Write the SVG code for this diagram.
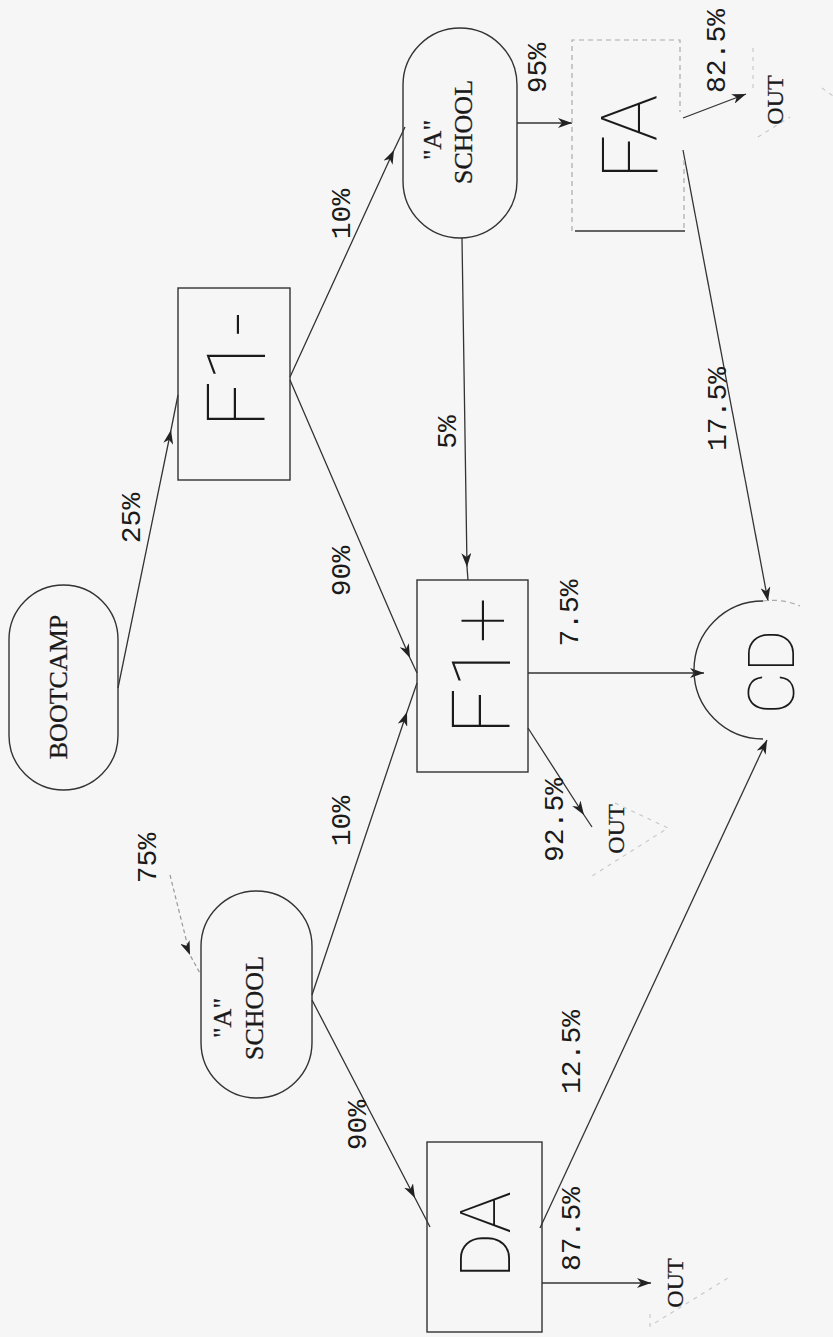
<svg xmlns="http://www.w3.org/2000/svg" width="833" height="1337" viewBox="0 0 833 1337">
<style>
.bg{fill:#f6f6f6}
.node{fill:none;stroke:#333;stroke-width:1.4}
.faint{fill:none;stroke:#aaa;stroke-width:1.2;stroke-dasharray:5 4}
.ghost{fill:none;stroke:#c6c6c6;stroke-width:1.1;stroke-dasharray:4 5}
.edge{fill:none;stroke:#333;stroke-width:1.3}
.edge-dash{fill:none;stroke:#999;stroke-width:1.2;stroke-dasharray:4 3}
.serif{font-family:"Liberation Serif","Times New Roman",serif;fill:#1a1a1a;stroke:#1a1a1a;stroke-width:0.3}
.name{font-size:26px}
.out{font-size:24px}
.lbl{font-family:"Liberation Mono","Courier New",monospace;font-size:28px;fill:#1a1a1a}
.big{font-family:Roboto,"DejaVu Sans",sans-serif;font-weight:100;fill:#1a1a1a}
</style>
<defs>
<marker id="ah" viewBox="0 0 14 10" refX="14" refY="5" markerWidth="14" markerHeight="10" markerUnits="userSpaceOnUse" orient="auto">
<path d="M0,0 L14,5 L0,10 L4,5 Z" fill="#222"/>
</marker>
</defs>
<rect class="bg" x="0" y="0" width="833" height="1337"/>

<g id="connectors">
<path id="e-boot-f1m" class="edge" d="M118,688 L171,430 L178,395" marker-mid="url(#ah)"/>
<path id="e-f1m-as1" class="edge" d="M290,377 L394,150 L405,127" marker-mid="url(#ah)"/>
<path id="e-f1m-f1p" class="edge" d="M290,380 L410,658 L417,673" marker-mid="url(#ah)"/>
<path id="e-as2-f1p" class="edge" d="M312,995 L407,712 L417,683" marker-mid="url(#ah)"/>
<path id="e-in-as2" class="edge-dash" d="M170,875 L190,955 L201,975" marker-mid="url(#ah)"/>
<path id="e-as1-f1p" class="edge" d="M462,238 L467,567 L468,580" marker-mid="url(#ah)"/>
<path id="e-as1-fa" class="edge" d="M517,123 L572,123" marker-end="url(#ah)" stroke-width="1.8"/>
<path id="e-fa-out" class="edge" d="M683,118 L746,94" marker-end="url(#ah)"/>
<path id="e-fa-cd" class="edge" d="M683,150 L768,601" marker-end="url(#ah)"/>
<path id="e-f1p-cd" class="edge" d="M528,673 L704,673" marker-end="url(#ah)" stroke-width="1.6"/>
<path id="e-f1p-out" class="edge" d="M528,728 L584,815 L592,827" marker-mid="url(#ah)"/>
<path id="e-da-cd" class="edge" d="M540,1228 L767,740" marker-end="url(#ah)"/>
<path id="e-da-out" class="edge" d="M542,1283 L651,1283" marker-end="url(#ah)" stroke-width="1.8"/>
<path id="e-as2-da" class="edge" d="M312,1000 L415,1198 L430,1227" marker-mid="url(#ah)"/>
<!-- faint OUT brackets -->
<path class="ghost" d="M753,48 L753,92"/>
<path class="ghost" d="M758,137 L790,117"/>
<path class="ghost" d="M822,88 L833,96"/>
<path class="ghost" d="M615,803 L668,828 L592,876"/>
<path class="ghost" d="M650,1314 L650,1326 L728,1278"/>
<!-- edge labels -->
<text class="lbl" text-anchor="middle" transform="translate(140,518) rotate(-90)">25%</text>
<text class="lbl" text-anchor="middle" transform="translate(350,214) rotate(-90)">10%</text>
<text class="lbl" text-anchor="middle" transform="translate(350,571) rotate(-90)">90%</text>
<text class="lbl" text-anchor="middle" transform="translate(350,821) rotate(-90)">10%</text>
<text class="lbl" text-anchor="middle" transform="translate(156,858) rotate(-90)">75%</text>
<text class="lbl" text-anchor="middle" transform="translate(366,1125) rotate(-90)">90%</text>
<text class="lbl" text-anchor="middle" transform="translate(456,432) rotate(-90)">5%</text>
<text class="lbl" text-anchor="middle" transform="translate(546,68) rotate(-90)">95%</text>
<text class="lbl" text-anchor="middle" transform="translate(725,51) rotate(-90)">82.5%</text>
<text class="lbl" text-anchor="middle" transform="translate(726,409) rotate(-90)">17.5%</text>
<text class="lbl" text-anchor="middle" transform="translate(578,613) rotate(-90)">7.5%</text>
<text class="lbl" text-anchor="middle" transform="translate(563,820) rotate(-90)">92.5%</text>
<text class="lbl" text-anchor="middle" transform="translate(580,1052) rotate(-90)">12.5%</text>
<text class="lbl" text-anchor="middle" transform="translate(580,1229) rotate(-90)">87.5%</text>
<text class="serif out" text-anchor="middle" transform="translate(783,100) rotate(-90)">OUT</text>
<text class="serif out" text-anchor="middle" transform="translate(624,829) rotate(-90)">OUT</text>
<text class="serif out" text-anchor="middle" transform="translate(683,1283) rotate(-90)">OUT</text>
</g>

<g id="bootcamp">
<rect class="node" x="9" y="585" width="109" height="205" rx="54.5" ry="54.5"/>
<text class="serif name" text-anchor="middle" transform="translate(67,687) rotate(-90)">BOOTCAMP</text>
</g>

<g id="a-school-1">
<rect class="node" x="403" y="28" width="114" height="210" rx="57" ry="57"/>
<text class="serif name" text-anchor="middle" transform="translate(441,140) rotate(-90)">"A"</text>
<text class="serif name" text-anchor="middle" transform="translate(472,132) rotate(-90)">SCHOOL</text>
</g>

<g id="a-school-2">
<rect class="node" x="201" y="891" width="111" height="207" rx="55.5" ry="55.5"/>
<text class="serif name" text-anchor="middle" transform="translate(231,1018) rotate(-90)">"A"</text>
<text class="serif name" text-anchor="middle" transform="translate(263,1008) rotate(-90)">SCHOOL</text>
</g>

<g id="f1-minus">
<rect class="node" x="178" y="288" width="112" height="192"/>
<text class="big" font-size="82" text-anchor="middle" transform="translate(265,370) rotate(-90)">F1-</text>
</g>

<g id="f1-plus">
<rect class="node" x="417" y="580" width="111" height="192"/>
<text class="big" font-size="82" text-anchor="middle" transform="translate(510,666) rotate(-90)">F1+</text>
</g>

<g id="fa">
<path class="faint" d="M572,231 L572,40 L680,40 L680,112 M684,160 L684,231"/>
<path class="node" d="M575,231 L685,231"/>
<text class="big" font-size="78" text-anchor="middle" transform="translate(657,137) rotate(-90)">FA</text>
</g>

<g id="da">
<rect class="node" x="427" y="1142" width="115" height="190"/>
<text class="big" font-size="70" text-anchor="middle" transform="translate(510,1235) rotate(-90)">DA</text>
</g>

<g id="cd">
<path class="node" d="M763,601 A69,69 0 0 0 763,739"/>
<path class="faint" d="M763,601 A69,69 0 0 1 800,606"/>
<text class="big" font-size="65" text-anchor="middle" transform="translate(794,672) rotate(-90)">CD</text>
</g>
</svg>
